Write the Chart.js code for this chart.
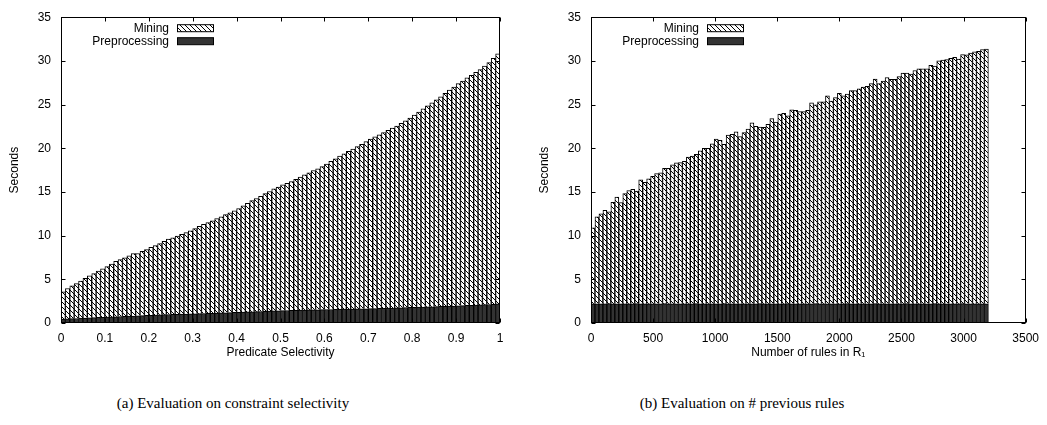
<!DOCTYPE html>
<html>
<head>
<meta charset="utf-8">
<script src="https://cdn.jsdelivr.net/npm/chart.js@4.4.1/dist/chart.umd.min.js"></script>
<style>
  body { margin: 0; background: #fff; width: 1047px; height: 425px; position: relative; overflow: hidden; }
  canvas { position: absolute; top: 0; }
  #chartA { left: 0; }
  #chartB { left: 530px; }
  .caption { position: absolute; top: 395px; font-family: "Liberation Serif", serif; font-size: 15px; color: #000; white-space: nowrap; transform: translateX(-50%); }
</style>
</head>
<body>
<canvas id="chartA" width="530" height="362"></canvas>
<canvas id="chartB" width="517" height="362"></canvas>
<div class="caption" style="left:233px">(a) Evaluation on constraint selectivity</div>
<div class="caption" style="left:742px">(b) Evaluation on # previous rules</div>
<script>
// (a) 100 selectivity bins, 0..1
var miningA = [
  3.12, 3.48, 3.75, 3.98, 4.25, 4.53, 4.8, 5.03, 5.31, 5.54,
  5.77, 6.05, 6.33, 6.51, 6.69, 6.92, 7.15, 7.13, 7.35, 7.53,
  7.76, 7.94, 8.17, 8.4, 8.63, 8.77, 8.95, 9.14, 9.32, 9.51,
  9.74, 9.98, 10.21, 10.4, 10.58, 10.82, 11.0, 11.23, 11.41, 11.64,
  11.87, 12.15, 12.43, 12.71, 12.95, 13.18, 13.46, 13.69, 13.97, 14.15,
  14.38, 14.57, 14.75, 14.99, 15.23, 15.47, 15.7, 15.94, 16.13, 16.37,
  16.66, 16.95, 17.24, 17.53, 17.77, 18.06, 18.3, 18.59, 18.83, 19.12,
  19.41, 19.65, 19.88, 20.12, 20.35, 20.59, 20.82, 21.1, 21.38, 21.67,
  22.0, 22.34, 22.67, 23.0, 23.34, 23.67, 24.0, 24.38, 24.72, 25.05,
  25.43, 25.71, 26.04, 26.32, 26.65, 26.93, 27.3, 27.68, 28.15, 28.62
];
var prepA = [
  0.45, 0.47, 0.5, 0.52, 0.55, 0.57, 0.6, 0.62, 0.64, 0.66,
  0.68, 0.7, 0.72, 0.74, 0.76, 0.78, 0.8, 0.82, 0.85, 0.87,
  0.89, 0.91, 0.93, 0.95, 0.97, 0.98, 1.0, 1.01, 1.03, 1.04,
  1.06, 1.07, 1.09, 1.1, 1.12, 1.13, 1.15, 1.17, 1.19, 1.21,
  1.23, 1.25, 1.27, 1.29, 1.3, 1.32, 1.34, 1.36, 1.38, 1.4,
  1.42, 1.43, 1.45, 1.46, 1.47, 1.48, 1.5, 1.51, 1.52, 1.53,
  1.54, 1.55, 1.56, 1.57, 1.58, 1.59, 1.6, 1.61, 1.62, 1.63,
  1.64, 1.65, 1.67, 1.68, 1.7, 1.71, 1.73, 1.75, 1.77, 1.78,
  1.8, 1.81, 1.83, 1.85, 1.86, 1.88, 1.9, 1.92, 1.93, 1.95,
  1.97, 1.99, 2.01, 2.03, 2.05, 2.07, 2.1, 2.12, 2.15, 2.18
];

// (b) 100 bins of 32 rules, 0..3200
var miningB = [
  8.7, 9.94, 10.3, 10.7, 10.5, 11.6, 12.2, 11.6, 12.6, 12.95,
  13.1, 12.9, 14.2, 13.9, 14.3, 14.6, 14.9, 15.0, 15.5, 15.5,
  15.9, 16.15, 16.15, 16.3, 16.8, 16.9, 17.1, 17.5, 17.8, 17.8,
  18.3, 18.85, 18.7, 18.25, 19.3, 19.4, 19.7, 19.15, 19.6, 20.0,
  20.7, 20.3, 20.2, 20.2, 20.55, 21.2, 20.8, 21.7, 21.8, 21.5,
  22.2, 22.15, 22.0, 22.0, 22.15, 23.0, 22.76, 23.1, 23.1, 23.8,
  23.2, 23.6, 24.1, 23.8, 24.0, 24.4, 24.4, 24.6, 24.8, 24.9,
  25.2, 25.7, 25.2, 25.5, 25.9, 25.7, 25.7, 26.0, 26.4, 26.4,
  26.3, 26.7, 26.9, 26.9, 26.9, 27.3, 27.2, 27.8, 27.9, 27.95,
  28.1, 28.2, 28.0, 28.5, 28.5, 28.7, 28.85, 28.9, 29.1, 29.15
];
var prepB = [
  2.2, 2.2, 2.19, 2.2, 2.21, 2.2, 2.2, 2.19, 2.2, 2.2,
  2.2, 2.21, 2.2, 2.2, 2.19, 2.2, 2.2, 2.2, 2.21, 2.2,
  2.2, 2.19, 2.2, 2.2, 2.2, 2.2, 2.21, 2.2, 2.2, 2.19,
  2.2, 2.2, 2.2, 2.21, 2.2, 2.2, 2.19, 2.2, 2.2, 2.2,
  2.2, 2.2, 2.21, 2.2, 2.19, 2.2, 2.2, 2.2, 2.2, 2.21,
  2.2, 2.2, 2.19, 2.2, 2.2, 2.2, 2.21, 2.2, 2.2, 2.2,
  2.19, 2.2, 2.2, 2.2, 2.21, 2.2, 2.2, 2.2, 2.19, 2.2,
  2.2, 2.21, 2.2, 2.2, 2.2, 2.19, 2.2, 2.2, 2.2, 2.21,
  2.2, 2.2, 2.19, 2.2, 2.2, 2.2, 2.21, 2.2, 2.2, 2.2,
  2.19, 2.2, 2.2, 2.21, 2.2, 2.2, 2.2, 2.19, 2.2, 2.2
];

var yTicks = [0, 5, 10, 15, 20, 25, 30, 35];
var xTicksA = [0, 0.1, 0.2, 0.3, 0.4, 0.5, 0.6, 0.7, 0.8, 0.9, 1];
var xTicksB = [0, 500, 1000, 1500, 2000, 2500, 3000, 3500];

// bin centres
var selectivity = miningA.map(function(v, i) { return (i + 0.5) / 100; });
var ruleCount = miningB.map(function(v, i) { return 16 + 32 * i; });

var FONT = '"Liberation Sans", Arial, sans-serif';

function hatchPattern() {
    var c = document.createElement('canvas');
    c.width = 5; c.height = 5;
    var g = c.getContext('2d');
    g.fillStyle = '#fff';
    g.fillRect(0, 0, 5, 5);
    g.strokeStyle = '#000';
    g.lineWidth = 1;
    g.beginPath();
    g.moveTo(-1, -1); g.lineTo(6, 6);
    g.stroke();
    return g.createPattern(c, 'repeat');
}
var hatch = hatchPattern();
var dark = '#333';

// gnuplot style box, inward mirrored ticks and key
var gnuplotFrame = {
    id: 'gnuplotFrame',
    afterDatasetsDraw: function(chart) {
        var ctx = chart.ctx, a = chart.chartArea;
        var l = Math.round(a.left) + 0.5, r = Math.round(a.right) - 0.5;
        var t = Math.round(a.top) + 0.5, b = Math.round(a.bottom) - 0.5;
        ctx.save();
        ctx.strokeStyle = '#000';
        ctx.lineWidth = 1;
        ctx.strokeRect(l, t, r - l, b - t);
        ctx.beginPath();
        chart.scales.x.ticks.forEach(function(tk) {
            var px = Math.round(chart.scales.x.getPixelForValue(tk.value)) + 0.5;
            ctx.moveTo(px, b); ctx.lineTo(px, b - 4);
            ctx.moveTo(px, t); ctx.lineTo(px, t + 4);
        });
        chart.scales.y.ticks.forEach(function(tk) {
            var py = Math.round(chart.scales.y.getPixelForValue(tk.value)) + 0.5;
            ctx.moveTo(l, py); ctx.lineTo(l + 4, py);
            ctx.moveTo(r, py); ctx.lineTo(r - 4, py);
        });
        ctx.stroke();

        ctx.font = '12px ' + FONT;
        ctx.fillStyle = '#000';
        ctx.textAlign = 'right';
        ctx.textBaseline = 'middle';
        chart.data.datasets.slice().reverse().forEach(function(ds, i) {
            var y = a.top + 11 + i * 13;
            ctx.fillStyle = '#000';
            ctx.fillText(ds.label, a.left + 108, y);
            ctx.fillStyle = ds.backgroundColor;
            ctx.fillRect(a.left + 116.5, y - 3.5, 36, 7);
            ctx.strokeRect(a.left + 116.5, y - 3.5, 36, 7);
        });
        ctx.restore();
    }
};

function makeChart(id, xs, prep, mining, xTicks, xTitle, xMax, padRight, fmt) {
    var ctx = document.getElementById(id).getContext('2d');
    return new Chart(ctx, {
        type: 'bar',
        data: {
            datasets: [{
                label: 'Preprocessing',
                data: xs.map(function(x, i) { return { x: x, y: prep[i] }; }),
                backgroundColor: dark,
                borderColor: '#000',
                borderWidth: 1,
                borderSkipped: 'start'
            }, {
                label: 'Mining',
                data: xs.map(function(x, i) { return { x: x, y: mining[i] }; }),
                backgroundColor: hatch,
                borderColor: '#000',
                borderWidth: 1,
                borderSkipped: 'start'
            }]
        },
        options: {
            responsive: false,
            animation: false,
            devicePixelRatio: 1,
            barPercentage: 1,
            categoryPercentage: 1,
            layout: { padding: { top: 14, right: padRight, left: 0, bottom: 0 } },
            plugins: { legend: { display: false }, tooltip: { enabled: false } },
            scales: {
                x: {
                    type: 'linear',
                    stacked: true,
                    offset: false,
                    min: 0,
                    max: xMax,
                    afterBuildTicks: function(s) { s.ticks = xTicks.map(function(v) { return { value: v }; }); },
                    afterFit: function(s) { s.height = 39; },
                    grid: { display: false, drawTicks: false },
                    border: { display: false },
                    ticks: { color: '#000', font: { family: FONT, size: 12 }, padding: 8, maxRotation: 0, autoSkip: false, callback: fmt },
                    title: { display: true, text: xTitle, color: '#000', font: { family: FONT, size: 12 }, padding: { top: 0, bottom: 2 } }
                },
                y: {
                    stacked: true,
                    min: 0,
                    max: 35,
                    afterBuildTicks: function(s) { s.ticks = yTicks.map(function(v) { return { value: v }; }); },
                    afterFit: function(s) { s.width = 61; },
                    grid: { display: false, drawTicks: false },
                    border: { display: false },
                    ticks: { color: '#000', font: { family: FONT, size: 12 }, padding: 10 },
                    title: { display: true, text: 'Seconds', color: '#000', font: { family: FONT, size: 12 }, padding: { top: 7, bottom: 0 } }
                }
            }
        },
        plugins: [gnuplotFrame]
    });
}

makeChart('chartA', selectivity, prepA, miningA, xTicksA, 'Predicate Selectivity', 1, 30,
    function(v) { return String(Math.round(v * 10) / 10); });
makeChart('chartB', ruleCount, prepB, miningB, xTicksB, 'Number of rules in R\u2081', 3500, 17,
    function(v) { return String(v); });
</script>
</body>
</html>
